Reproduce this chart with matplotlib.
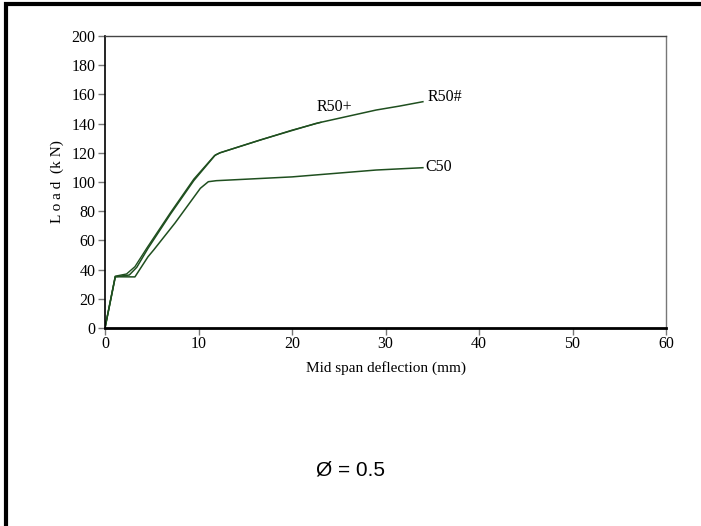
import numpy as np
import matplotlib.pyplot as plt
from matplotlib.patches import Rectangle

# deflection (mm) / load (kN)
r50h_x = [0.0, 1.1, 2.6, 3.4, 4.6, 7.0, 9.5, 11.8, 12.3, 16.6, 22.6, 29.0, 31.5, 34.0]
r50h_y = [0.0, 35.1, 36.3, 41.6, 54.6, 78.0, 101.0, 118.5, 120.0, 128.8, 140.2, 149.3, 152.0, 155.0]

r50p_x = [0.0, 1.1, 2.3, 3.2, 4.5, 7.0, 9.5, 11.7, 12.3, 16.5, 20.0, 23.1]
r50p_y = [0.0, 35.5, 37.0, 42.0, 55.0, 79.0, 102.0, 118.0, 120.0, 128.5, 135.5, 140.9]

c50_x = [0.0, 1.1, 3.2, 4.6, 5.2, 7.5, 10.2, 11.05, 11.9, 20.0, 29.0, 34.0]
c50_y = [0.0, 35.1, 35.0, 48.8, 53.4, 72.0, 95.7, 100.2, 100.9, 103.5, 108.2, 109.8]

x_ticks = [0, 10, 20, 30, 40, 50, 60]
y_ticks = list(range(0, 201, 20))

serif = ['Liberation Serif', 'DejaVu Serif']
green = '#1f4f1f'

fig = plt.figure(figsize=(7.01, 5.26), dpi=100)
ax = fig.add_axes([105 / 701, 1 - 328 / 526, 561 / 701, 292 / 526])

ax.plot(r50h_x, r50h_y, color=green, lw=1.1)
ax.plot(r50p_x, r50p_y, color=green, lw=1.0)
ax.plot(c50_x, c50_y, color=green, lw=1.1)

ax.text(24.5, 146, 'R50+', fontsize=11.5, family=serif, ha='center', va='bottom')
ax.text(34.5, 158, 'R50#', fontsize=11.5, family=serif, ha='left', va='center')
ax.text(34.3, 110, 'C50', fontsize=11.5, family=serif, ha='left', va='center')

ax.set_xlim(0, 60)
ax.set_ylim(0, 200)
ax.set_xticks(x_ticks)
ax.set_yticks(y_ticks)
ax.tick_params(axis='both', direction='out', length=5, width=1, color='#777777', labelsize=11.5)
ax.tick_params(axis='x', pad=1)
ax.tick_params(axis='y', pad=2)
for lab in ax.get_xticklabels() + ax.get_yticklabels():
    lab.set_family(serif)

ax.spines['left'].set_color('black')
ax.spines['left'].set_linewidth(1.2)
ax.spines['bottom'].set_color('black')
ax.spines['bottom'].set_linewidth(2)
ax.spines['top'].set_color('#444444')
ax.spines['top'].set_linewidth(1)
ax.spines['right'].set_color('#777777')
ax.spines['right'].set_linewidth(1)

ax.set_xlabel('Mid span deflection (mm)', fontsize=11, family=serif, labelpad=6)
ax.set_ylabel('L o a d  (k N)', fontsize=11, family=serif, labelpad=5)

fig.text(350 / 701, 1 - 470 / 526, 'Ø = 0.5', fontsize=15, family=['Liberation Sans', 'DejaVu Sans'],
         ha='center', va='center')

# outer frame, only top and left visible
fig.add_artist(Rectangle((6 / 701, -0.05), 1.2, 1.05 - 4 / 526, transform=fig.transFigure,
                         fill=False, edgecolor='black', lw=3))

fig.savefig('out.png', dpi=100)
